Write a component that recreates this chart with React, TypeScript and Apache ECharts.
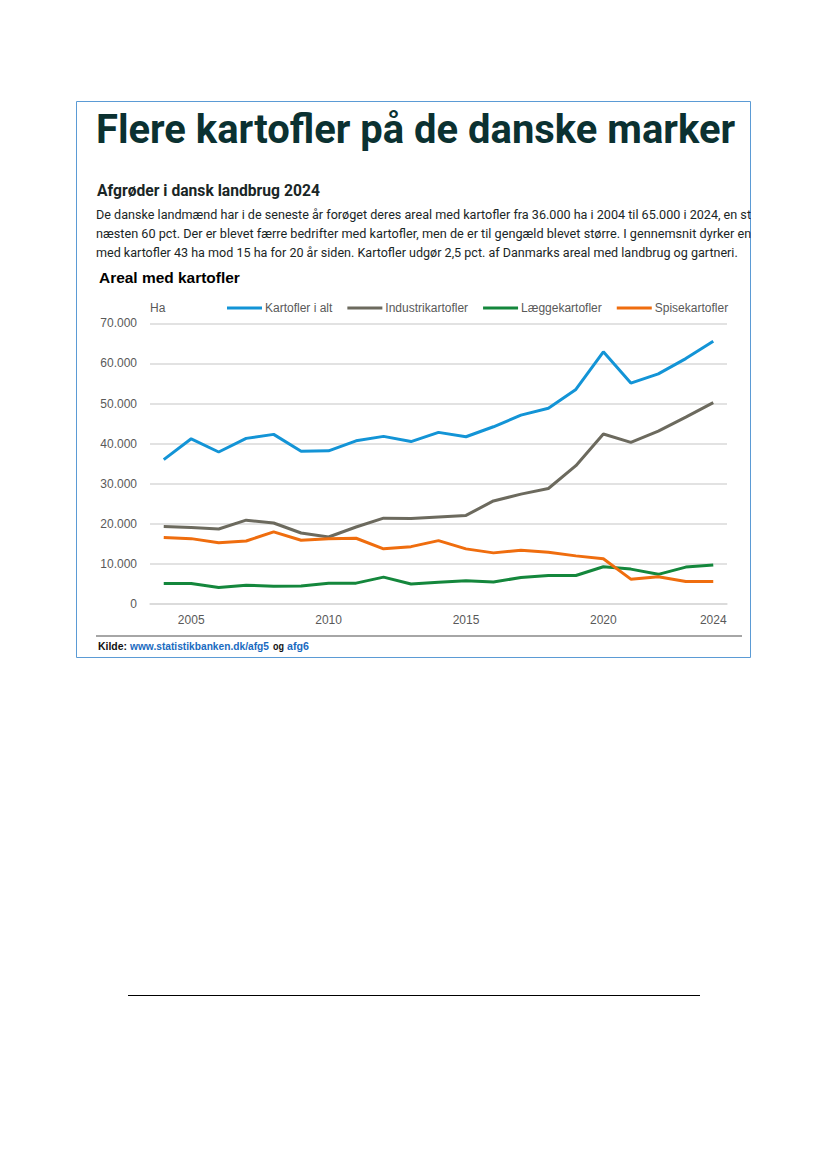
import React, { useEffect, useRef } from "react";
import * as echarts from "echarts";

const years = ["2004","2005","2006","2007","2008","2009","2010","2011","2012","2013","2014","2015","2016","2017","2018","2019","2020","2021","2022","2023","2024"];
const kartoflerIAlt = [36000, 41200, 37900, 41300, 42300, 38100, 38200, 40700, 41800, 40500, 42800, 41700, 44200, 47100, 48800, 53500, 62900, 55100, 57400, 61200, 65500];
const industrikartofler = [19300, 19100, 18700, 20900, 20200, 17700, 16700, 19200, 21400, 21300, 21700, 22100, 25700, 27400, 28800, 34500, 42400, 40300, 43100, 46600, 50200];
const laeggekartofler = [5100, 5100, 4100, 4700, 4400, 4500, 5200, 5200, 6700, 5000, 5400, 5800, 5500, 6600, 7100, 7100, 9300, 8700, 7400, 9200, 9700];
const spisekartofler = [16600, 16300, 15300, 15700, 18000, 15900, 16300, 16400, 13750, 14300, 15800, 13750, 12750, 13400, 12900, 12000, 11300, 6200, 6800, 5600, 5600];
const seriesNames = ["Kartofler i alt", "Industrikartofler", "Læggekartofler", "Spisekartofler"];
const yTicks = { min: 0, max: 70000, interval: 10000 };

const title = "Flere kartofler på de danske marker";
const subtitle = "Afgrøder i dansk landbrug 2024";
const para = [
  "De danske landmænd har i de seneste år forøget deres areal med kartofler fra 36.000 ha i 2004 til 65.000 i 2024, en st",
  "næsten 60 pct. Der er blevet færre bedrifter med kartofler, men de er til gengæld blevet større. I gennemsnit dyrker en",
  "med kartofler 43 ha mod 15 ha for 20 år siden. Kartofler udgør 2,5 pct. af Danmarks areal med landbrug og gartneri.",
];

const ctx = typeof document !== "undefined" ? document.createElement("canvas").getContext("2d") : null;
function measure(text: string, weight: string | number, size: number, family: string) {
  if (!ctx) return text.length * size * 0.5;
  ctx.font = `${weight} ${size}px ${family}`;
  return ctx.measureText(text).width;
}

function fitText(text: string, x: number, y: number, width: number, size: number, weight: string | number, family: string, fill: string) {
  const w = measure(text, weight, size, family);
  const s = w > 0 ? width / w : 1;
  return {
    type: "text",
    x,
    y,
    scaleX: s,
    style: {
      text,
      fontSize: size,
      fontWeight: weight,
      fontFamily: family,
      fill,
      textAlign: "left",
      textVerticalAlign: "middle",
    },
  };
}

const fmt = (v: number) => String(v).replace(/\B(?=(\d{3})+(?!\d))/g, ".");

export default function App() {
  const ref = useRef<HTMLDivElement>(null);
  useEffect(() => {
    document.body.style.margin = "0";
    if (!ref.current) return;
    const chart = echarts.init(ref.current, null, { renderer: "svg" });
    const DIN = "Roboto";
    const AR = "'Liberation Sans', Arial, sans-serif";
    const colors = ["#1394d6", "#6c6a5e", "#14873c", "#ef6d0e"];
    const data = [kartoflerIAlt, industrikartofler, laeggekartofler, spisekartofler];
    chart.setOption({
      animation: false,
      color: colors,
      grid: { left: 150, width: 577, top: 323.3, height: 280.7, containLabel: false },
      legend: {
        left: 222,
        top: 297,
        icon: "rect",
        itemWidth: 35,
        itemHeight: 3,
        itemGap: 15,
        textStyle: { color: "#595959", fontSize: 12, fontFamily: AR, padding: [0, 0, 0, -2] },
        data: seriesNames,
      },
      xAxis: {
        type: "category",
        data: years,
        boundaryGap: true,
        axisTick: { show: false },
        axisLine: { show: true, lineStyle: { color: "#d9d9d9", width: 1.5 } },
        axisLabel: {
          color: "#595959",
          fontSize: 12,
          fontFamily: AR,
          margin: 10,
          interval: (i: number, v: string) => Number(v) % 5 === 0 || v === "2024",
        },
      },
      yAxis: {
        type: "value",
        min: yTicks.min,
        max: yTicks.max,
        interval: yTicks.interval,
        axisLine: { show: false },
        axisTick: { show: false },
        splitLine: { lineStyle: { color: "#d9d9d9", width: 1.5 } },
        axisLabel: { color: "#595959", fontSize: 12, fontFamily: AR, margin: 13, formatter: (v: number) => fmt(v) },
      },
      series: seriesNames.map((n, i) => ({
        name: n,
        type: "line",
        data: data[i],
        showSymbol: false,
        symbol: "none",
        lineStyle: { width: 3, color: colors[i] },
        itemStyle: { color: colors[i] },
      })),
      graphic: [
        { type: "rect", shape: { x: 76.5, y: 101.5, width: 674, height: 556 }, style: { fill: "none", stroke: "#5b9bd5", lineWidth: 1 }, silent: true },
        fitText(title, 96, 129, 639, 40, 700, DIN, "#0b3131"),
        fitText(subtitle, 97, 190, 223, 16.5, 700, DIN, "#1a2626"),
        fitText(para[0], 96, 214, 656, 13.5, 400, DIN, "#1a2626"),
        fitText(para[1], 96, 233, 656, 13.5, 400, DIN, "#1a2626"),
        fitText(para[2], 96, 252, 642, 13.5, 400, DIN, "#1a2626"),
        { type: "rect", shape: { x: 751, y: 200, width: 60, height: 70 }, style: { fill: "#ffffff" }, silent: true, z: 10 },
        fitText("Areal med kartofler", 99, 278, 141, 15, 700, AR, "#000000"),
        { type: "text", x: 150, y: 308, style: { text: "Ha", fontSize: 12, fontFamily: AR, fill: "#595959", textVerticalAlign: "middle" } },
        { type: "line", shape: { x1: 96, y1: 636, x2: 742, y2: 636 }, style: { stroke: "#a6a6a6", lineWidth: 2 } },
        fitText("Kilde:", 98, 646, 29, 11.5, 700, AR, "#111111"),
        fitText("www.statistikbanken.dk/afg5", 130, 646, 139, 11.5, 700, AR, "#1a6bbf"),
        fitText("og", 273, 646, 11, 11.5, 700, AR, "#111111"),
        fitText("afg6", 287, 646, 22, 11.5, 700, AR, "#1a6bbf"),
        { type: "line", shape: { x1: 128, y1: 995.5, x2: 700, y2: 995.5 }, style: { stroke: "#000000", lineWidth: 1.2 } },
      ],
    });
    return () => chart.dispose();
  }, []);
  return <div ref={ref} style={{ width: 827, height: 1169 }} />;
}
